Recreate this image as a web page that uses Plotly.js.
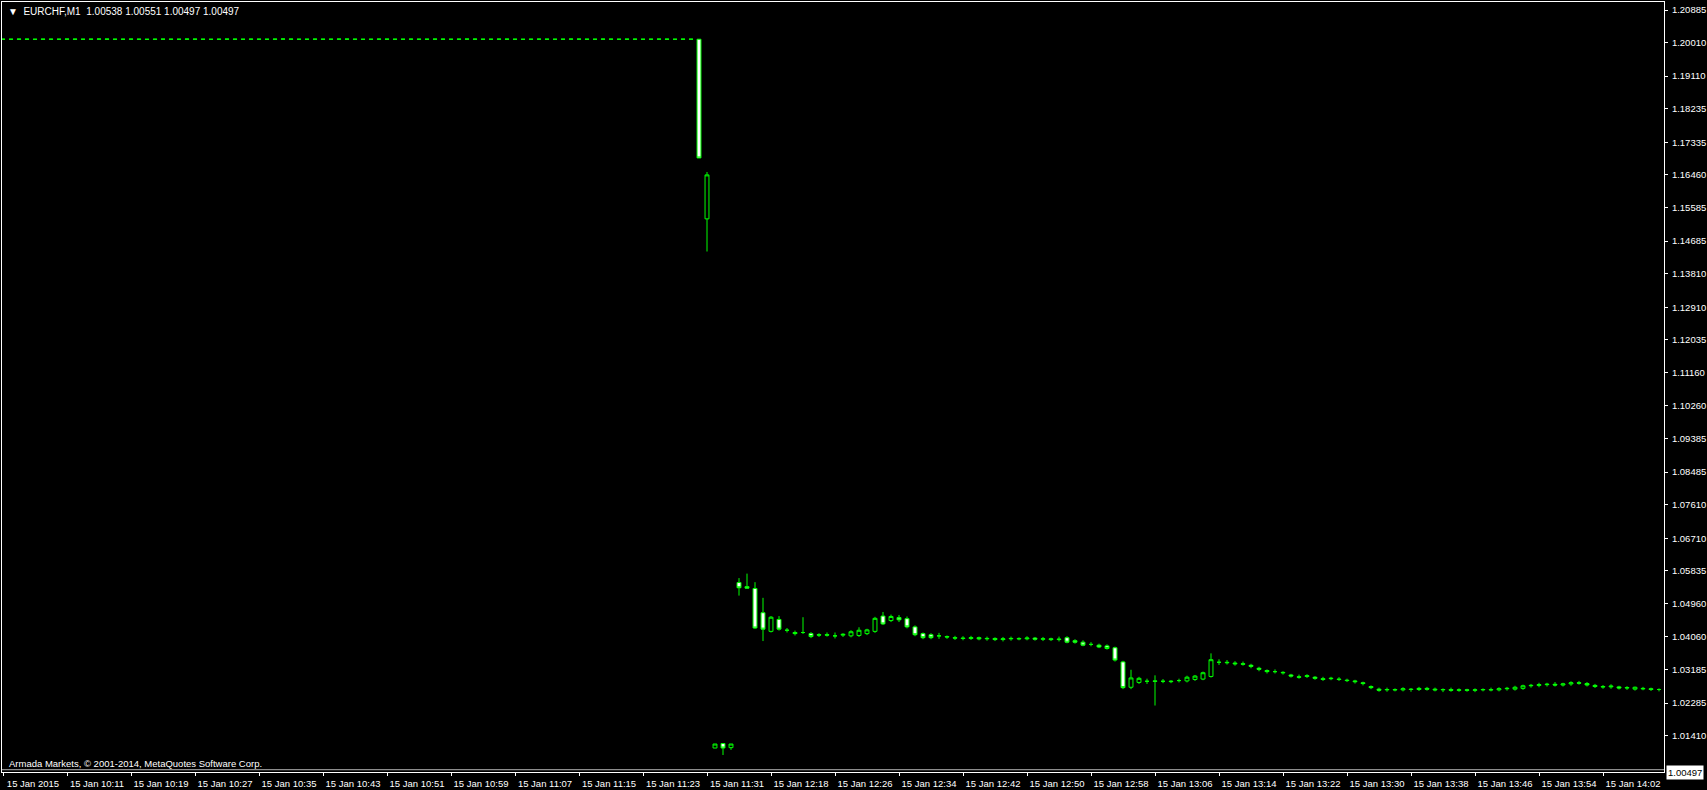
<!DOCTYPE html>
<html>
<head>
<meta charset="utf-8">
<script src="https://cdn.plot.ly/plotly-3.0.1.min.js"></script>
<style>
html,body{margin:0;padding:0;background:#000;}
#chart{width:1707px;height:790px;}
</style>
</head>
<body>
<div id="chart"></div>
<script>
// ---- DATA ----
const symbolName = "EURCHF,M1";
const headerOHLC = [1.00538, 1.00551, 1.00497, 1.00497];
const copyrightText = "Armada Markets, \u00a9 2001-2014, MetaQuotes Software Corp.";

// bars 0..86 : 10:03 .. 11:29 (peg at 1.2010)
const flatOpen = [1.20100,1.20102,1.20100,1.20104,1.20101,1.20099,1.20103,1.20100,1.20102,1.20105,
1.20101,1.20100,1.20103,1.20106,1.20102,1.20100,1.20101,1.20104,1.20100,1.20098,
1.20102,1.20103,1.20100,1.20101,1.20105,1.20102,1.20100,1.20099,1.20102,1.20104,
1.20101,1.20100,1.20103,1.20101,1.20100,1.20104,1.20106,1.20102,1.20100,1.20101,
1.20103,1.20100,1.20102,1.20105,1.20103,1.20100,1.20099,1.20101,1.20104,1.20102,
1.20100,1.20101,1.20103,1.20100,1.20102,1.20104,1.20101,1.20100,1.20103,1.20105,
1.20102,1.20100,1.20101,1.20104,1.20102,1.20100,1.20099,1.20102,1.20103,1.20101,
1.20100,1.20102,1.20105,1.20103,1.20100,1.20101,1.20104,1.20102,1.20100,1.20103,
1.20101,1.20100,1.20102,1.20104,1.20101,1.20100,1.20103];
const flatHigh = [1.20104,1.20103,1.20106,1.20112,1.20102,1.20105,1.20111,1.20103,1.20107,1.20106,
1.20110,1.20104,1.20108,1.20107,1.20103,1.20112,1.20105,1.20106,1.20101,1.20110,
1.20105,1.20104,1.20102,1.20113,1.20106,1.20103,1.20101,1.20110,1.20105,1.20105,
1.20102,1.20111,1.20104,1.20102,1.20105,1.20114,1.20107,1.20103,1.20102,1.20111,
1.20104,1.20103,1.20106,1.20112,1.20104,1.20101,1.20102,1.20110,1.20105,1.20103,
1.20102,1.20111,1.20104,1.20103,1.20105,1.20112,1.20102,1.20104,1.20106,1.20113,
1.20103,1.20102,1.20105,1.20111,1.20103,1.20101,1.20103,1.20112,1.20104,1.20102,
1.20103,1.20111,1.20106,1.20104,1.20102,1.20112,1.20105,1.20103,1.20104,1.20111,
1.20102,1.20103,1.20105,1.20112,1.20102,1.20104,1.20104];
const flatLow = [1.20099,1.20099,1.20099,1.20096,1.20098,1.20098,1.20095,1.20099,1.20101,1.20100,
1.20094,1.20099,1.20102,1.20101,1.20099,1.20093,1.20100,1.20099,1.20097,1.20093,
1.20101,1.20099,1.20099,1.20095,1.20101,1.20099,1.20098,1.20093,1.20101,1.20100,
1.20099,1.20094,1.20100,1.20099,1.20099,1.20097,1.20101,1.20099,1.20099,1.20094,
1.20099,1.20099,1.20101,1.20097,1.20099,1.20098,1.20098,1.20095,1.20101,1.20099,
1.20099,1.20094,1.20099,1.20099,1.20101,1.20095,1.20099,1.20099,1.20102,1.20096,
1.20099,1.20099,1.20100,1.20096,1.20099,1.20098,1.20098,1.20094,1.20100,1.20099,
1.20099,1.20095,1.20102,1.20099,1.20099,1.20094,1.20101,1.20099,1.20099,1.20095,
1.20099,1.20099,1.20101,1.20096,1.20099,1.20099,1.20100];
const flatClose = [1.20102,1.20100,1.20104,1.20101,1.20099,1.20103,1.20100,1.20102,1.20105,1.20101,
1.20100,1.20103,1.20106,1.20102,1.20100,1.20101,1.20104,1.20100,1.20098,1.20102,
1.20103,1.20100,1.20101,1.20105,1.20102,1.20100,1.20099,1.20102,1.20104,1.20101,
1.20100,1.20103,1.20101,1.20100,1.20104,1.20106,1.20102,1.20100,1.20101,1.20103,
1.20100,1.20102,1.20105,1.20103,1.20100,1.20099,1.20101,1.20104,1.20102,1.20100,
1.20101,1.20103,1.20100,1.20102,1.20104,1.20101,1.20100,1.20103,1.20105,1.20102,
1.20100,1.20101,1.20104,1.20102,1.20100,1.20099,1.20102,1.20103,1.20101,1.20100,
1.20102,1.20105,1.20103,1.20100,1.20101,1.20104,1.20102,1.20100,1.20103,1.20101,
1.20100,1.20102,1.20104,1.20101,1.20100,1.20103,1.20101];

// bars 87..207 : 11:30 .. 11:34, then 12:14 .. 14:09
const afterOpen = [1.20101,1.15280,1.01080,1.01200,1.01090,
1.0552,1.0541,1.0536,1.0471,1.0421,1.0453,1.0424,1.0418,1.0418,1.0415,
1.0412,1.0412,1.0409,1.0411,1.0409,1.0410,1.0415,1.0421,1.0462,1.0450,
1.0458,1.0455,1.0433,1.0415,1.0412,1.0409,1.0407,1.0404,1.0403,1.0402,
1.0404,1.0401,1.0402,1.0399,1.0401,1.0402,1.0401,1.0403,1.0400,1.0401,
1.0399,1.0404,1.0396,1.0392,1.0386,1.0384,1.0382,1.0377,1.0339,1.0271,
1.0284,1.0287,1.0288,1.0287,1.0286,1.0289,1.0288,1.0292,1.0293,1.0300,
1.0338,1.0338,1.0336,1.0334,1.0330,1.0322,1.0316,1.0313,1.0311,1.0304,
1.0299,1.0300,1.0298,1.0294,1.0294,1.0293,1.0290,1.0288,1.0283,1.0273,
1.0266,1.0264,1.0265,1.0264,1.0266,1.0265,1.0268,1.0266,1.0264,1.0265,
1.0263,1.0264,1.0263,1.0264,1.0265,1.0264,1.0267,1.0266,1.0268,1.0275,
1.0276,1.0278,1.0279,1.0277,1.0280,1.0283,1.0281,1.0276,1.0273,1.0272,
1.0272,1.0269,1.0266,1.0268,1.0267,1.0265];
const afterHigh = [1.20104,1.16538,1.01190,1.01210,1.01190,
1.0564,1.0576,1.0553,1.0511,1.0462,1.0462,1.0430,1.0423,1.0459,1.0419,
1.0416,1.0418,1.0418,1.0416,1.0424,1.0432,1.0428,1.0460,1.0473,1.0466,
1.0465,1.0461,1.0437,1.0418,1.0416,1.0417,1.0410,1.0409,1.0408,1.0409,
1.0407,1.0407,1.0405,1.0406,1.0407,1.0405,1.0408,1.0406,1.0406,1.0404,
1.0407,1.0408,1.0400,1.0397,1.0392,1.0388,1.0386,1.0380,1.0342,1.0318,
1.0299,1.0294,1.0303,1.0293,1.0290,1.0294,1.0302,1.0304,1.0313,1.0362,
1.0346,1.0344,1.0341,1.0340,1.0334,1.0326,1.0319,1.0319,1.0314,1.0307,
1.0305,1.0306,1.0301,1.0299,1.0299,1.0298,1.0294,1.0291,1.0286,1.0276,
1.0270,1.0270,1.0268,1.0271,1.0269,1.0272,1.0272,1.0270,1.0268,1.0270,
1.0268,1.0267,1.0268,1.0268,1.0270,1.0271,1.0272,1.0275,1.0278,1.0280,
1.0283,1.0283,1.0285,1.0283,1.0287,1.0288,1.0285,1.0280,1.0277,1.0279,
1.0275,1.0274,1.0273,1.0272,1.0270,1.0268];
const afterLow = [1.16915,1.14404,1.01075,1.00892,1.01030,
1.0517,1.0536,1.0428,1.0395,1.0418,1.0423,1.0418,1.0410,1.0414,1.0403,
1.0406,1.0407,1.0402,1.0406,1.0405,1.0406,1.0411,1.0417,1.0438,1.0446,
1.0446,1.0429,1.0408,1.0400,1.0400,1.0401,1.0401,1.0398,1.0397,1.0398,
1.0397,1.0396,1.0395,1.0394,1.0396,1.0397,1.0397,1.0396,1.0395,1.0395,
1.0394,1.0389,1.0388,1.0381,1.0381,1.0376,1.0372,1.0340,1.0266,1.0266,
1.0280,1.0280,1.0222,1.0282,1.0282,1.0284,1.0284,1.0288,1.0290,1.0297,
1.0331,1.0332,1.0329,1.0329,1.0322,1.0314,1.0308,1.0308,1.0305,1.0297,
1.0294,1.0296,1.0291,1.0288,1.0290,1.0288,1.0285,1.0281,1.0276,1.0266,
1.0259,1.0259,1.0260,1.0260,1.0259,1.0261,1.0262,1.0260,1.0258,1.0259,
1.0259,1.0259,1.0258,1.0260,1.0260,1.0260,1.0262,1.0262,1.0264,1.0270,
1.0271,1.0273,1.0273,1.0273,1.0275,1.0278,1.0273,1.0269,1.0267,1.0267,
1.0265,1.0264,1.0262,1.0263,1.0261,1.0260];
const afterClose = [1.16915,1.16460,1.01187,1.01080,1.01187,
1.0538,1.0537,1.0430,1.0427,1.0459,1.0427,1.0424,1.0415,1.0418,1.0407,
1.0411,1.0411,1.0409,1.0413,1.0420,1.0424,1.0425,1.0456,1.0441,1.0461,
1.0452,1.0433,1.0412,1.0404,1.0404,1.0409,1.0406,1.0403,1.0402,1.0404,
1.0401,1.0402,1.0399,1.0401,1.0402,1.0401,1.0403,1.0400,1.0401,1.0399,
1.0400,1.0392,1.0392,1.0384,1.0386,1.0379,1.0375,1.0344,1.0270,1.0296,
1.0295,1.0287,1.0287,1.0287,1.0287,1.0289,1.0298,1.0301,1.0310,1.0345,
1.0338,1.0337,1.0334,1.0333,1.0327,1.0319,1.0313,1.0313,1.0310,1.0301,
1.0298,1.0302,1.0295,1.0292,1.0295,1.0292,1.0289,1.0286,1.0281,1.0270,
1.0263,1.0265,1.0264,1.0267,1.0265,1.0268,1.0266,1.0264,1.0265,1.0263,
1.0264,1.0263,1.0264,1.0265,1.0264,1.0267,1.0268,1.0271,1.0275,1.0276,
1.0278,1.0279,1.0277,1.0280,1.0283,1.0282,1.0277,1.0273,1.0272,1.0274,
1.0269,1.0270,1.0271,1.0267,1.0265,1.0265];

const tickBars = [0,8,16,24,32,40,48,56,64,72,80,88,96,104,112,120,128,136,144,152,160,168,176,184,192,200];
const tickLabels = ["15 Jan 2015","15 Jan 10:11","15 Jan 10:19","15 Jan 10:27","15 Jan 10:35","15 Jan 10:43",
"15 Jan 10:51","15 Jan 10:59","15 Jan 11:07","15 Jan 11:15","15 Jan 11:23","15 Jan 11:31","15 Jan 12:18",
"15 Jan 12:26","15 Jan 12:34","15 Jan 12:42","15 Jan 12:50","15 Jan 12:58","15 Jan 13:06","15 Jan 13:14",
"15 Jan 13:22","15 Jan 13:30","15 Jan 13:38","15 Jan 13:46","15 Jan 13:54","15 Jan 14:02"];

const priceTicks = [1.20885,1.20010,1.19110,1.18235,1.17335,1.16460,1.15585,1.14685,1.13810,1.12910,1.12035,1.11160,
1.10260,1.09385,1.08485,1.07610,1.06710,1.05835,1.04960,1.04060,1.03185,1.02285,1.01410];
const priceTickLabels = ["1.20885","1.20010","1.19110","1.18235","1.17335","1.16460","1.15585","1.14685","1.13810",
"1.12910","1.12035","1.11160","1.10260","1.09385","1.08485","1.07610","1.06710","1.05835","1.04960","1.04060",
"1.03185","1.02285","1.01410"];

// ---- BUILD ----
const open = flatOpen.concat(afterOpen);
const high = flatHigh.concat(afterHigh);
const low = flatLow.concat(afterLow);
const close = flatClose.concat(afterClose);
const bars = open.map((_, i) => i);
const lastBid = headerOHLC[3];

const GREEN = '#00ff00';
const FONT = 'Liberation Sans, Arial, sans-serif';

const trace = {
  type: 'candlestick',
  x: bars, open: open, high: high, low: low, close: close,
  increasing: {line: {color: GREEN, width: 1}, fillcolor: '#000000'},
  decreasing: {line: {color: GREEN, width: 1}, fillcolor: '#ffffff'},
  whiskerwidth: 0,
  hoverinfo: 'none',
  showlegend: false
};

const layout = {
  width: 1707, height: 790,
  margin: {l: 2, r: 43, t: 2, b: 18, pad: 0},
  paper_bgcolor: '#000000',
  plot_bgcolor: '#000000',
  boxgap: 0.3,
  showlegend: false,
  xaxis: {
    type: 'linear',
    range: [-0.125, 207.625],
    rangeslider: {visible: false},
    tickmode: 'array', tickvals: tickBars, ticktext: tickLabels,
    ticks: 'outside', ticklen: 3, tickcolor: '#ffffff', tickwidth: 1,
    ticklabelshift: 30, ticklabelstandoff: 0,
    tickfont: {family: FONT, size: 9.5, color: '#ffffff'},
    showgrid: false, zeroline: false,
    showline: true, linecolor: '#ffffff', linewidth: 1, mirror: true,
    fixedrange: true
  },
  yaxis: {
    side: 'right',
    range: [1.00436, 1.21100],
    tickmode: 'array', tickvals: priceTicks, ticktext: priceTickLabels,
    ticks: 'outside', ticklen: 3, tickcolor: '#ffffff', tickwidth: 1,
    ticklabelstandoff: 2,
    tickfont: {family: FONT, size: 9.5, color: '#ffffff'},
    showgrid: false, zeroline: false,
    showline: true, linecolor: '#ffffff', linewidth: 1, mirror: true,
    fixedrange: true
  },
  shapes: [
    {type: 'line', xref: 'paper', x0: 0, x1: 1, yref: 'y', y0: lastBid, y1: lastBid,
     line: {color: '#b4b4b4', width: 1}, layer: 'below'}
  ],
  annotations: [
    {xref: 'paper', yref: 'paper', x: 0, y: 1, xanchor: 'left', yanchor: 'top',
     xshift: 4, yshift: -2, showarrow: false, align: 'left',
     text: '\u25BC\u00a0\u00a0' + symbolName + '\u00a0\u00a0' + headerOHLC.map(v => v.toFixed(5)).join('\u00a0'),
     font: {family: FONT, size: 10, color: '#ffffff'}},
    {xref: 'paper', yref: 'paper', x: 0, y: 0, xanchor: 'left', yanchor: 'bottom',
     xshift: 5, yshift: 1, showarrow: false, align: 'left',
     text: copyrightText,
     font: {family: FONT, size: 9.5, color: '#ffffff'}},
    {xref: 'paper', yref: 'y', x: 1, y: lastBid, xanchor: 'left', yanchor: 'middle',
     xshift: 2, yshift: -3, showarrow: false,
     text: lastBid.toFixed(5), bgcolor: '#ffffff', borderpad: 1,
     font: {family: FONT, size: 9.5, color: '#000000'}}
  ]
};

Plotly.newPlot('chart', [trace], layout, {staticPlot: true, displayModeBar: false});
</script>
</body>
</html>
